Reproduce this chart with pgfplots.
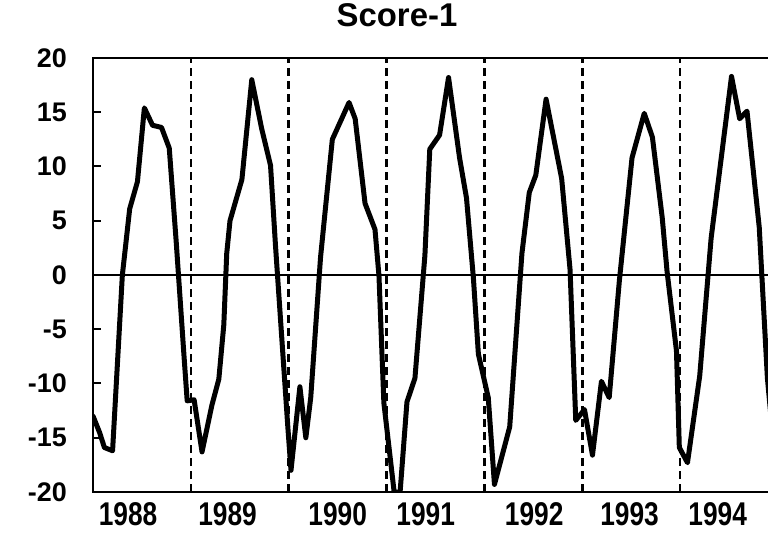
\documentclass[border=0pt]{standalone}
\usepackage{fontspec}
\setmainfont{Liberation Sans}
\usepackage{graphicx}
\usepackage{pgfplots}
\pgfplotsset{compat=1.18}
\newcommand{\yr}[1]{\scalebox{0.8}[1]{#1}}
\begin{document}
\begin{tikzpicture}
\path[use as bounding box] (-93bp,-54bp) rectangle (675bp,492bp);
\begin{axis}[
  at={(0,0)}, anchor=south west,
  width=685bp, height=434bp, scale only axis,
  xmin=0, xmax=84, ymin=-20, ymax=20,
  axis line style={line width=2.5bp},
  ytick={-20,-15,-10,-5,0,5,10,15,20},
  yticklabels={{-20},{-15},{-10},{-5},{0},{5},{10},{15},{20}},
  xtick={4.3,16.5,30,40.8,54.1,65.8,76.6},
  xticklabels={\yr{1988},\yr{1989},\yr{1990},\yr{1991},\yr{1992},\yr{1993},\yr{1994}},
  x tick style={draw=none},
  y tick style={line width=2bp, black},
  tick align=inside, major tick length=8bp,
  yticklabel style={font=\fontsize{27}{29}\selectfont\bfseries, anchor=east, inner sep=0pt, xshift=-26bp},
  xticklabel style={font=\fontsize{33}{35}\selectfont\bfseries, anchor=north, inner sep=0pt, yshift=-10bp},
  title={Score-1},
  title style={at={(0.4438,1)}, anchor=base, inner sep=0pt, yshift=26bp, font=\fontsize{33}{35}\selectfont\bfseries},
  clip=true,
]
\addplot[black, line width=1.5bp] coordinates {(0,0) (84,0)};
\pgfplotsinvokeforeach{12,24,36,48,60,72}{
  \addplot[black, line width=2.5bp, dash pattern=on 8bp off 5bp] coordinates {(#1,-20) (#1,20)};
}
\addplot[black, line width=5bp, line join=round, line cap=round] coordinates {
(0,-13) (0.8,-14.5) (1.4,-15.9) (2.4,-16.2) (3.6,0) (4.5,6.1) (5.45,8.6) (6.3,15.4)
(7.3,13.8) (8.4,13.6) (9.35,11.7) (10.2,3.1) (11.2,-7.9) (11.55,-11.6) (12.4,-11.5)
(13.37,-16.3) (14.58,-12) (15.43,-9.6) (16.04,-4.6) (16.4,2) (16.8,5) (18.26,8.8)
(19.47,18) (20.68,13.5) (21.77,10.1) (22.38,2.7) (23.9,-14.1) (24.28,-18) (25.37,-10.3)
(26.1,-15) (26.7,-11.3) (27.9,1.6) (29.35,12.5) (31.4,15.9) (32.15,14.4) (33.36,6.6)
(34.58,4.2) (35.07,-0.1) (35.67,-11.8) (36.93,-20) (37.66,-20) (38.5,-11.7) (39.48,-9.5)
(40.7,1.8) (41.3,11.6) (42.5,12.9) (43.6,18.2) (44.95,10.8) (45.8,7.1) (46.65,-0.3)
(47.26,-7.3) (48.47,-11.3) (49.23,-19.3) (51.1,-14) (52.6,2.0) (53.5,7.6) (54.3,9.2)
(55.56,16.2) (57.47,8.9) (58.5,0.5) (59.2,-13.4) (60.27,-12.4) (61.25,-16.6) (62.35,-9.8)
(63.3,-11.3) (64.55,-0.5) (66.1,10.8) (67.6,14.9) (68.6,12.7) (69.8,5.3) (70.4,0.3)
(71.55,-7) (71.9,-15.9) (72.9,-17.3) (74.4,-9.3) (75.8,3.4) (78.3,18.3) (79.3,14.4)
(80.2,15.1) (81.7,4.4) (82.7,-9.5) (83.5,-16)
};
\end{axis}
\end{tikzpicture}
\end{document}
